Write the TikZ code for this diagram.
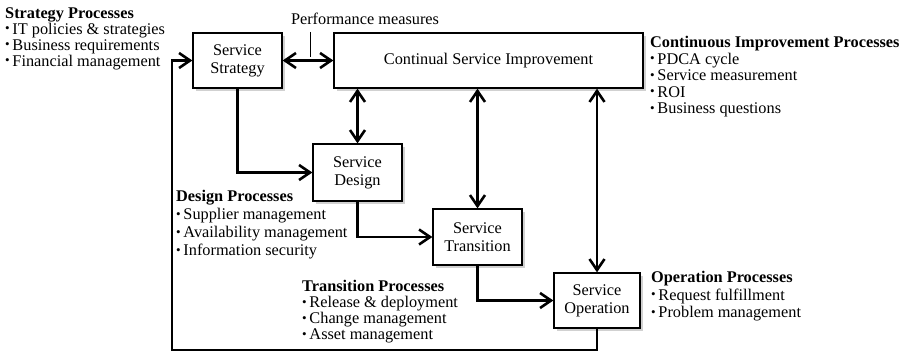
\documentclass[tikz,border=0pt]{standalone}
\usepackage{fontspec}
\usepackage{graphicx}
\setmainfont{Liberation Serif}
\usetikzlibrary{arrows.meta,shadows}
\newcommand{\bul}{\raisebox{0.22ex}{\scalebox{0.8}{\textbullet}}\,}
\begin{document}
\begin{tikzpicture}[x=1pt,y=-1pt,
  font=\fontsize{16.3}{16}\selectfont,
  box/.style={draw, line width=1.3pt, fill=white, align=center, inner sep=0pt,
    font=\fontsize{16.3}{18}\selectfont,
    drop shadow={shadow xshift=3pt, shadow yshift=-3pt, opacity=0.3, fill=black!60}},
  tip/.tip={Straight Barb[length=11pt,width=15pt,line width=2.6pt]},
  arr/.style={line width=2.6pt, -tip},
  darr/.style={line width=2.6pt, tip-tip},
  info/.style={align=left, anchor=north west, inner sep=0pt},
  tick/.style={line width=0.9pt}]
\useasboundingbox (0,0) rectangle (905,353);
% boxes
\node[box, minimum width=89pt, minimum height=55pt] (ss) at (237.5,60.5) {Service\\Strategy};
\node[box, minimum width=309pt, minimum height=55pt] (csi) at (488.5,60.5) {Continual Service Improvement};
\node[box, minimum width=89pt, minimum height=57pt] (sd) at (357.5,172.5) {Service\\Design};
\node[box, minimum width=89pt, minimum height=56pt] (st) at (477.5,237) {Service\\Transition};
\node[box, minimum width=86pt, minimum height=55pt] (so) at (597,300.5) {Service\\Operation};
% performance measures
\node[inner sep=0pt] (pm) at (365,19) {Performance measures};
\coordinate (tickA) at (310,32);
\coordinate (tickB) at (310,57);
\draw[tick] (tickA) -- (tickB);
% connectors
\draw[darr] (ss.east) -- (ss.east -| csi.west);
\draw[arr] (ss.south) |- (sd.west);
\draw[darr] (csi.south -| sd.north) -- (sd.north);
\draw[darr] (csi.south -| st.north) -- (st.north);
\draw[darr] (csi.south -| so.north) -- (so.north);
\draw[arr] (sd.south) |- (st.west);
\draw[arr] (st.south) |- (so.west);
\coordinate (fb) at (172,350);
\draw[arr] (so.south) |- (fb) |- (ss.west);
% process lists
\node[info] (sp) at (5,7.3) {\textbf{Strategy Processes}\\\bul IT policies \& strategies\\\bul Business requirements\\\bul Financial management};
\node[info, font=\fontsize{16.3}{16.5}\selectfont] (cip) at (650,36.3) {\textbf{Continuous Improvement Processes}\\\bul PDCA cycle\\\bul Service measurement\\\bul ROI\\\bul Business questions};
\node[info, font=\fontsize{16.3}{18}\selectfont] (dp) at (176,190.3) {\textbf{Design Processes}\\\bul Supplier management\\\bul Availability management\\\bul Information security};
\node[info] (tp) at (302,280.3) {\textbf{Transition Processes}\\\bul Release \& deployment\\\bul Change management\\\bul Asset management};
\node[info, font=\fontsize{16.3}{17.5}\selectfont] (op) at (651,271.3) {\textbf{Operation Processes}\\\bul Request fulfillment\\\bul Problem management};
\end{tikzpicture}
\end{document}
